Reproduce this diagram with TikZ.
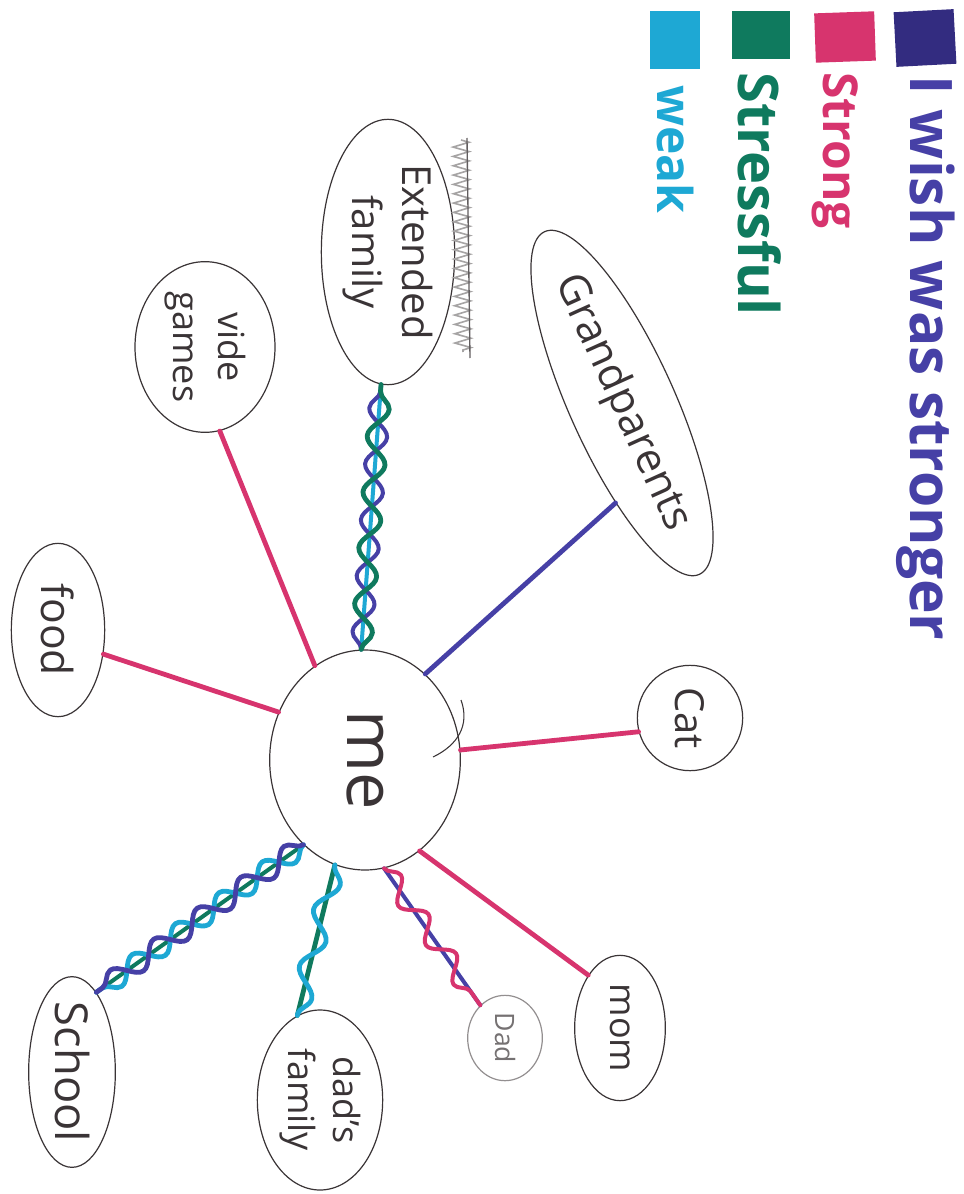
\documentclass[tikz,border=0pt]{standalone}
\usepackage{fontspec}
\setmainfont{Open Sans}
\usetikzlibrary{shapes.geometric,decorations.pathmorphing}
\definecolor{cIndigo}{HTML}{4640A6}
\definecolor{cIndigoDark}{HTML}{332C80}
\definecolor{cPink}{HTML}{D7346E}
\definecolor{cGreen}{HTML}{0F7A5E}
\definecolor{cCyan}{HTML}{1EA8D4}
\definecolor{cInk}{HTML}{3A3436}
\newcommand{\fsz}[1]{\fontsize{#1}{1.25\dimexpr #1pt\relax}\selectfont}
\begin{document}
\begin{tikzpicture}[x=0.75pt,y=-0.75pt,
  blobbase/.style={draw=cInk, line width=0.9pt, ellipse, inner sep=0pt},
  blob/.style={blobbase, rotate=-90},
  lbl/.style={text=cInk, rotate=-90, align=center, inner sep=0pt},
  leg/.style={rotate=-90, inner sep=0pt, anchor=west, font=\bfseries},
  swatch/.style={inner sep=0pt},
  tie/.style={line width=3.6pt, line cap=round, line join=round},
  wavy/.style={decorate, decoration={snake, segment length=#1, amplitude=7.5pt}},
  wavy/.default=40pt,
  wavym/.style={decorate, decoration={snake, segment length=#1, amplitude=7.5pt, mirror}},
  wavym/.default=40pt
]
\useasboundingbox (0,0) rectangle (963,1194);
\fill[white] (0,0) rectangle (963,1194);

% ---------- legend ----------
\node[swatch, fill=cIndigoDark, minimum width=45pt, minimum height=41pt, rotate=3] (swI) at (925,38) {};
\node[swatch, fill=cPink, minimum width=45pt, minimum height=37pt, rotate=2] (swS) at (845,37) {};
\node[swatch, fill=cGreen, minimum width=43pt, minimum height=36pt] (swT) at (761,35) {};
\node[swatch, fill=cCyan, minimum width=38pt, minimum height=44pt] (swW) at (675,40) {};
\node[leg, text=cIndigo] (tI) at (926,75) {\fsz{44}I wish was stronger};
\node[leg, text=cPink] (tS) at (835,72) {\fsz{36}Strong};
\node[leg, text=cGreen] (tT) at (760,72) {\fsz{42}Stressful};
\node[leg, text=cCyan] (tW) at (675,85) {\fsz{36}weak};

% ---------- nodes ----------
\node[blob, minimum width=165pt, minimum height=143pt] (me) at (365,760) {};
\node[lbl, font=\fsz{50}] (meT) at (me) {me};

\node[blob, minimum width=199pt, minimum height=100pt] (ext) at (388,252) {};
\node[lbl, font=\fsz{30}] (extT) at (ext) {Extended\\family};

\node[blobbase, minimum width=282pt, minimum height=79pt, rotate=-65.7] (gp) at (622,403) {};
\node[text=cInk, inner sep=0pt, rotate=-65.7, font=\fsz{32}] (gpT) at (gp) {Grandparents};

\node[blob, minimum width=128pt, minimum height=105pt] (vg) at (205,347) {};
\node[lbl, font=\fsz{27}] (vgT) at (vg) {vide\\games};

\node[blob, minimum width=130pt, minimum height=70pt] (food) at (58,630) {};
\node[lbl, font=\fsz{32}] (foodT) at (food) {food};

\node[blob, minimum width=79pt, minimum height=79pt] (cat) at (690,718) {};
\node[lbl, font=\fsz{30}] (catT) at (cat) {Cat};

\node[blob, minimum width=109pt, minimum height=68pt] (mom) at (620,1028) {};
\node[lbl, font=\fsz{27}] (momT) at (mom) {mom};

\node[blob, draw=cInk!55, minimum width=64pt, minimum height=56pt] (dad) at (505,1038) {};
\node[lbl, text=cInk!70, font=\fsz{20}] (dadT) at (dad) {Dad};

\node[blob, minimum width=135pt, minimum height=94pt] (dfam) at (320,1100) {};
\node[lbl, font=\fsz{27}] (dfamT) at (dfam) {dad's\\family};

\node[blob, minimum width=143pt, minimum height=65pt] (school) at (72,1072) {};
\node[lbl, font=\fsz{34}] (schoolT) at (school) {School};

% stray pen strokes
\draw[cInk, line width=0.8pt] (461,700) .. controls (470,725) and (458,745) .. (433,757);
\draw[cInk!45, line width=1.2pt, decorate, decoration={zigzag, segment length=7pt, amplitude=6pt}] (461,140) -- (463,352);
\draw[cInk!80, line width=1pt] (467,138) -- (470,358);

% ---------- connectors ----------
\draw[tie, cPink] (me.208) -- (vg.10);
\draw[tie, cPink] (me.241) -- (food.62);
\draw[tie, cIndigo] (me.145) -- (gp.-28);
\draw[tie, cPink] (me.96) -- (cat.-75);
\draw[tie, cPink] (me.31) -- (mom.211);

% extended family: weak + stressful + wish stronger
\draw[tie, cCyan, line width=3pt] (me.182) -- (ext.-3);
\draw[tie, cIndigo, line width=3pt, wavy=42pt] (me.182) -- (ext.-3);
\draw[tie, cGreen, wavym=42pt] (me.182) -- (ext.-3);

% dad: wish stronger + strong
\draw[tie, cIndigo, line width=3pt] (me.10) -- (dad.217);
\draw[tie, cPink, line width=3pt, wavy=36pt] (me.10) -- (dad.217);

% dad's family: stressful + weak
\draw[tie, cGreen] (me.-16) -- (dfam.195);
\draw[tie, cCyan, wavy=44pt] (me.-16) -- (dfam.195);

% school: stressful + weak + wish stronger
\draw[tie, cGreen, line width=3pt] (me.-36) -- (school.163);
\draw[tie, cCyan, wavy=40pt] (me.-36) -- (school.163);
\draw[tie, cIndigo, wavym=40pt] (me.-36) -- (school.163);
\end{tikzpicture}
\end{document}
